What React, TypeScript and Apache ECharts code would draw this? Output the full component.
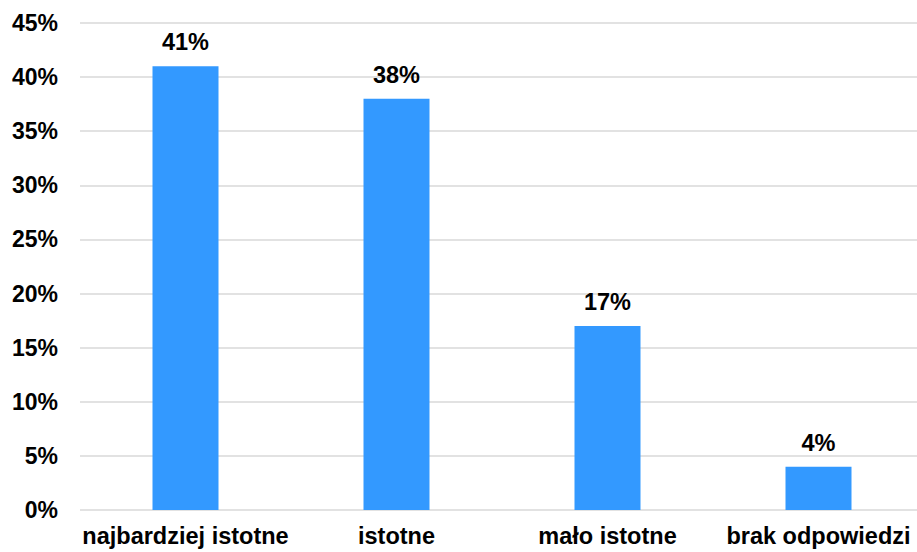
import React, { useEffect, useRef } from "react";
import * as echarts from "echarts";

const categories = ["najbardziej istotne", "istotne", "mało istotne", "brak odpowiedzi"];
const values = [41, 38, 17, 4];
const yTicks = { min: 0, max: 45, interval: 5 };

const FONT = "'Liberation Sans', Arial, sans-serif";

export default function App() {
  const ref = useRef<HTMLDivElement>(null);
  useEffect(() => {
    document.body.style.margin = "0";
    const chart = echarts.init(ref.current!, null, { renderer: "svg" });
    chart.setOption({
      animation: false,
      backgroundColor: "#ffffff",
      grid: { left: 80, right: 0, top: 23, bottom: 42, containLabel: false },
      xAxis: {
        type: "category",
        data: categories,
        axisLine: { show: false },
        axisTick: { show: false },
        axisLabel: {
          interval: 0,
          margin: 14,
          color: "#000",
          fontFamily: FONT,
          fontWeight: "bold",
          fontSize: 23.5,
        },
      },
      yAxis: {
        type: "value",
        min: yTicks.min,
        max: yTicks.max,
        interval: yTicks.interval,
        axisLine: { show: false },
        axisTick: { show: false },
        splitLine: { lineStyle: { color: "#D9D9D9", width: 1.5 } },
        axisLabel: {
          margin: 22,
          formatter: "{value}%",
          color: "#000",
          fontFamily: FONT,
          fontWeight: "bold",
          fontSize: 23,
        },
      },
      series: [
        {
          type: "bar",
          data: values,
          barWidth: 66,
          itemStyle: { color: "#3399FF" },
          label: {
            show: true,
            position: "top",
            distance: 12,
            formatter: "{c}%",
            color: "#000",
            fontFamily: FONT,
            fontWeight: "bold",
            fontSize: 23.5,
          },
        },
      ],
    });
    return () => chart.dispose();
  }, []);
  return (
    <div style={{ width: 917, height: 552, overflow: "hidden", position: "relative" }}>
      <div ref={ref} style={{ width: 924, height: 552 }} />
    </div>
  );
}
